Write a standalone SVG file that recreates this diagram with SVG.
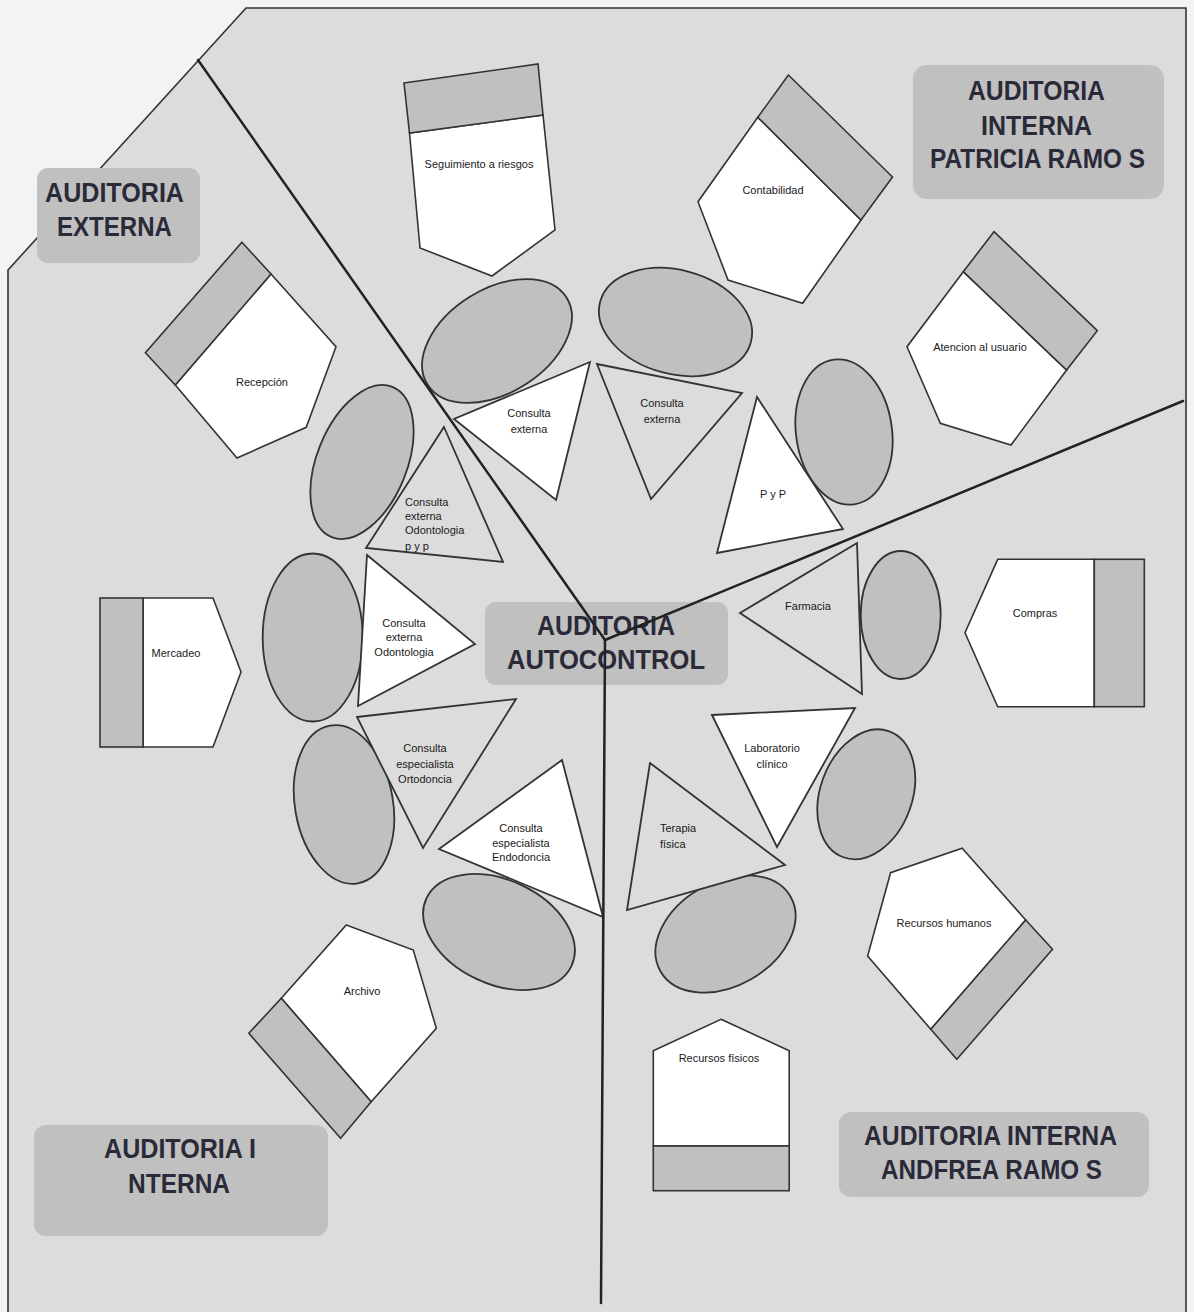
<svg xmlns="http://www.w3.org/2000/svg" width="1194" height="1312" viewBox="0 0 1194 1312">
<style>
.frame{fill:#dcdcdc;stroke:#333;stroke-width:1.6}
.wh{fill:#ffffff;stroke:#333;stroke-width:1.6;stroke-linejoin:miter}
.band{fill:#c0c0c0;stroke:#333;stroke-width:1.6}
.gtri{fill:#dcdcdc;stroke:#333;stroke-width:1.8}
.wtri{fill:#ffffff;stroke:#333;stroke-width:1.8}
.ell{fill:#c0c0c0;stroke:#333;stroke-width:1.8}
.lbl{fill:#c0c0c0}
.big{font-family:"Liberation Sans",Arial,sans-serif;font-weight:bold;font-size:27px;fill:#2a2a38}
.sm{font-family:"Liberation Sans",Arial,sans-serif;font-size:11px;fill:#1a1a1a}
.mid{text-anchor:middle}
.div{stroke:#222;stroke-width:2.5;fill:none;stroke-linecap:round}
</style>
<rect x="0" y="0" width="1194" height="1312" fill="#f3f3f3"/>
<polygon class="frame" points="8,270 246,8 1186,8 1186,1320 8,1320"/>

<g id="lbl-externa">
<rect class="lbl" x="37" y="168" width="163" height="95" rx="11"/>
<text class="big" x="45" y="202" textLength="139" lengthAdjust="spacingAndGlyphs">AUDITORIA</text>
<text class="big" x="57" y="236" textLength="115" lengthAdjust="spacingAndGlyphs">EXTERNA</text>
</g>
<g id="lbl-patricia">
<rect class="lbl" x="913" y="65" width="251" height="134" rx="14"/>
<text class="big" x="968" y="100" textLength="137" lengthAdjust="spacingAndGlyphs">AUDITORIA</text>
<text class="big" x="981" y="135" textLength="111" lengthAdjust="spacingAndGlyphs">INTERNA</text>
<text class="big" x="930" y="168" textLength="215" lengthAdjust="spacingAndGlyphs">PATRICIA RAMO S</text>
</g>
<g id="lbl-interna">
<rect class="lbl" x="34" y="1125" width="294" height="111" rx="12"/>
<text class="big" x="104" y="1158" textLength="152" lengthAdjust="spacingAndGlyphs">AUDITORIA I</text>
<text class="big" x="128" y="1193" textLength="102" lengthAdjust="spacingAndGlyphs">NTERNA</text>
</g>
<g id="lbl-andfrea">
<rect class="lbl" x="839" y="1112" width="310" height="85" rx="12"/>
<text class="big" x="864" y="1145" textLength="253" lengthAdjust="spacingAndGlyphs">AUDITORIA INTERNA</text>
<text class="big" x="881" y="1179" textLength="221" lengthAdjust="spacingAndGlyphs">ANDFREA RAMO S</text>
</g>

<g id="n-seguimiento">
<polygon class="wh" points="409.5,133 543,115 555,230 492,276 420,248"/>
<polygon class="band" points="404,83 538,64 543,115 409.5,133"/>
<text class="sm mid" x="479" y="168">Seguimiento a riesgos</text>
</g>
<g id="n-contabilidad">
<polygon class="wh" points="757.8,117.3 861,220 802.6,303.3 728,280 698,201.7"/>
<polygon class="band" points="788.4,75 892.5,177 861,220 757.8,117.3"/>
<text class="sm mid" x="773" y="194">Contabilidad</text>
</g>
<g id="n-atencion">
<polygon class="wh" points="963.3,271.7 1066.6,370 1011,445 940.3,423.3 907,346.7"/>
<polygon class="band" points="994,231.7 1097.3,330.7 1066.6,370 963.3,271.7"/>
<text class="sm mid" x="980" y="351">Atencion al usuario</text>
</g>
<g id="n-recepcion">
<polygon class="wh" points="271,274 336,346.7 306.2,427.3 237,458 175.3,385"/>
<polygon class="band" points="241.9,242.3 271,274 175.3,385 145.4,352.7"/>
<text class="sm mid" x="262" y="386">Recepción</text>
</g>
<g id="n-mercadeo">
<polygon class="wh" points="143,598 213,598 241,672 213,747 143,747"/>
<rect class="band" x="100" y="598" width="43" height="149"/>
<text class="sm mid" x="176" y="657">Mercadeo</text>
</g>
<g id="n-compras">
<polygon class="wh" points="997.7,559.3 1094.3,559.3 1094.3,706.7 997.7,706.7 965,632.7"/>
<rect class="band" x="1094.3" y="559.3" width="50" height="147.4"/>
<text class="sm mid" x="1035" y="617">Compras</text>
</g>
<g id="n-rrhh">
<polygon class="wh" points="962.2,848.3 1025.7,920 930.8,1029.3 867.6,956 890.6,872.7"/>
<polygon class="band" points="1025.7,920 1052.5,949.3 956.8,1059.3 930.8,1029.3"/>
<text class="sm mid" x="944" y="927">Recursos humanos</text>
</g>
<g id="n-rfisicos">
<polygon class="wh" points="721,1019.3 789.2,1050.7 789.2,1146 653.3,1146 653.3,1050.7"/>
<rect class="band" x="653.3" y="1146" width="135.9" height="44.7"/>
<text class="sm mid" x="719" y="1062">Recursos físicos</text>
</g>
<g id="n-archivo">
<polygon class="wh" points="346.3,925 413.3,950 436.3,1028.3 371.2,1101.7 281.3,998.3"/>
<polygon class="band" points="281.3,998.3 371.2,1101.7 340.6,1138.3 248.8,1033.3"/>
<text class="sm mid" x="362" y="995">Archivo</text>
</g>

<g id="ellipses">
<ellipse id="e1" class="ell" cx="497" cy="341" rx="82" ry="52" transform="rotate(-32 497 341)"/>
<ellipse id="e2" class="ell" cx="675.5" cy="322" rx="78" ry="52" transform="rotate(15 675.5 322)"/>
<ellipse id="e3" class="ell" cx="844" cy="432" rx="48" ry="73" transform="rotate(-8 844 432)"/>
<ellipse id="e4" class="ell" cx="362" cy="462" rx="45" ry="81" transform="rotate(22 362 462)"/>
<ellipse id="e5" class="ell" cx="312.7" cy="637.5" rx="50" ry="84"/>
<ellipse id="e6" class="ell" cx="344" cy="804.5" rx="49" ry="80" transform="rotate(-10 344 804.5)"/>
<ellipse id="e7" class="ell" cx="499" cy="932" rx="80" ry="52" transform="rotate(25 499 932)"/>
<ellipse id="e8" class="ell" cx="725.5" cy="934" rx="75" ry="52" transform="rotate(-30 725.5 934)"/>
<ellipse id="e9" class="ell" cx="866.3" cy="794.3" rx="46" ry="67" transform="rotate(20 866.3 794.3)"/>
<ellipse id="e10" class="ell" cx="900.7" cy="615" rx="40" ry="64"/>
</g>

<g id="t-consulta-externa-1">
<polygon class="wtri" points="590,362 454,419 556,500"/>
<text class="sm mid" x="529" y="417">Consulta</text>
<text class="sm mid" x="529" y="433">externa</text>
</g>
<g id="t-consulta-externa-2">
<polygon class="gtri" points="597,364 742,393 651,499"/>
<text class="sm mid" x="662" y="407">Consulta</text>
<text class="sm mid" x="662" y="423">externa</text>
</g>
<g id="t-pyp">
<polygon class="wtri" points="757,397 843,529 717,553"/>
<text class="sm mid" x="773" y="498">P y P</text>
</g>
<g id="t-farmacia">
<polygon class="gtri" points="857,543 862,694 740,613"/>
<text class="sm mid" x="808" y="610">Farmacia</text>
</g>
<g id="t-odonto-pyp">
<polygon class="gtri" points="444,427 503,562 366,548"/>
<text class="sm" x="405" y="506">Consulta</text>
<text class="sm" x="405" y="520">externa</text>
<text class="sm" x="405" y="534">Odontologia</text>
<text class="sm" x="405" y="550">p y p</text>
</g>
<g id="t-odonto">
<polygon class="wtri" points="367,555 475,644 358,706"/>
<text class="sm mid" x="404" y="627">Consulta</text>
<text class="sm mid" x="404" y="641">externa</text>
<text class="sm mid" x="404" y="656">Odontologia</text>
</g>
<g id="t-ortodoncia">
<polygon class="gtri" points="357,717 516,699 423,848"/>
<text class="sm mid" x="425" y="752">Consulta</text>
<text class="sm mid" x="425" y="768">especialista</text>
<text class="sm mid" x="425" y="783">Ortodoncia</text>
</g>
<g id="t-endodoncia">
<polygon class="wtri" points="562,760 603,917 439,849"/>
<text class="sm mid" x="521" y="832">Consulta</text>
<text class="sm mid" x="521" y="847">especialista</text>
<text class="sm mid" x="521" y="861">Endodoncia</text>
</g>
<g id="t-laboratorio">
<polygon class="wtri" points="712,715 855,708 777,847"/>
<text class="sm mid" x="772" y="752">Laboratorio</text>
<text class="sm mid" x="772" y="768">clínico</text>
</g>
<g id="t-terapia">
<polygon class="gtri" points="650,763 785,865 627,910"/>
<text class="sm" x="660" y="832">Terapia</text>
<text class="sm" x="660" y="848">física</text>
</g>

<g id="lbl-autocontrol">
<rect class="lbl" x="485" y="602" width="243" height="83" rx="11"/>
<text class="big" x="537" y="635" textLength="138" lengthAdjust="spacingAndGlyphs">AUDITORIA</text>
<text class="big" x="507" y="669" textLength="198" lengthAdjust="spacingAndGlyphs">AUTOCONTROL</text>
</g>

<g id="connectors">
<line class="div" x1="198" y1="60" x2="605" y2="640"/>
<line class="div" x1="605" y1="640" x2="1183" y2="401"/>
<line class="div" x1="605" y1="640" x2="601" y2="1303"/>
</g>
</svg>
